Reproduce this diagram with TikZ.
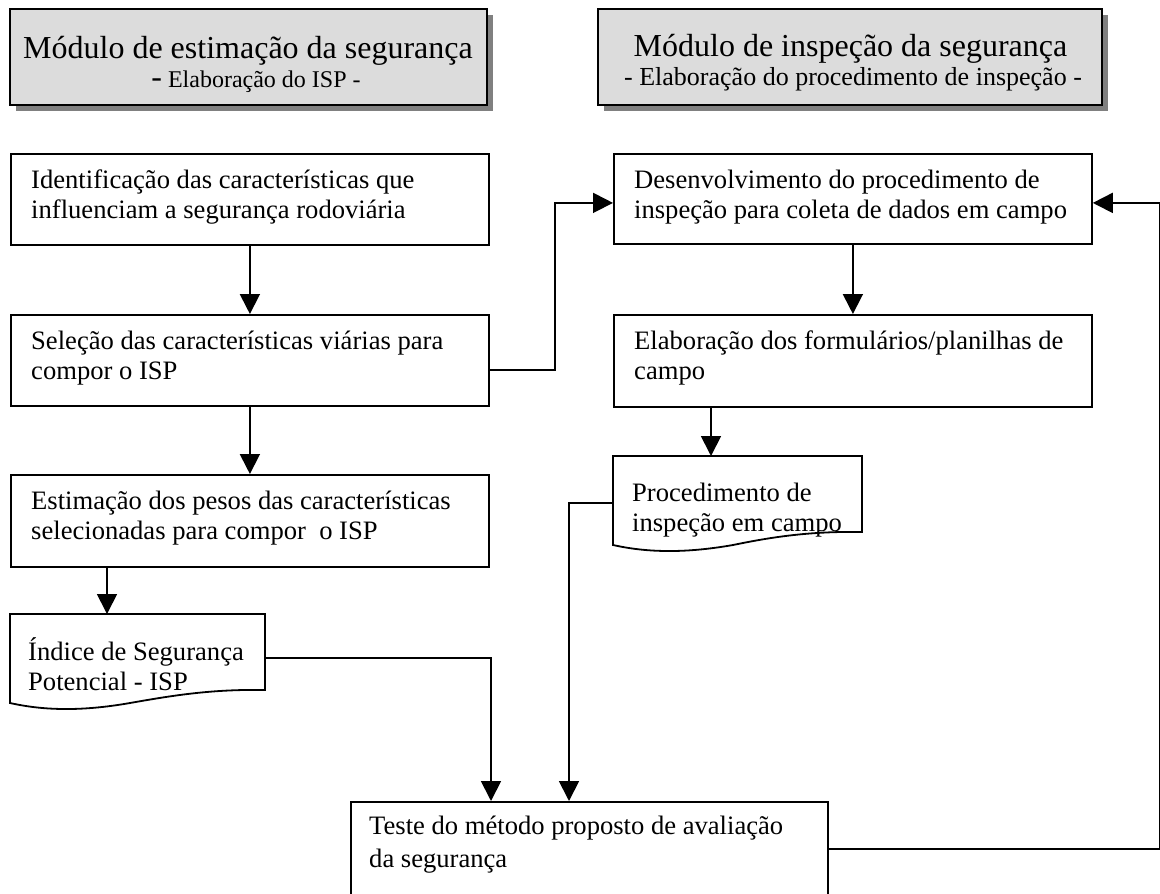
\documentclass[tikz,border=0pt]{standalone}
\usepackage{fontspec}
\setmainfont{Liberation Serif}
\usetikzlibrary{arrows.meta,shadows}
\definecolor{hdrgray}{HTML}{DCDCDC}
\definecolor{shadowgray}{HTML}{808080}
\newcommand{\bodyfont}{\fontsize{26.6pt}{30pt}\selectfont}
\newcommand{\bodyfontb}{\fontsize{26.6pt}{33pt}\selectfont}
\newcommand{\titlefont}{\fontsize{32pt}{36pt}\selectfont}
\newcommand{\subfont}{\fontsize{24pt}{28pt}\selectfont}
\newcommand{\subfontb}{\fontsize{26pt}{30pt}\selectfont}
\begin{document}
\begin{tikzpicture}[x=1pt,y=-1pt,
  stepbox/.style={draw=black, line width=1.8pt, anchor=north west, inner sep=0pt, minimum width=478pt, minimum height=#1},
  hdrbox/.style={draw=black, line width=1.8pt, fill=hdrgray, inner sep=0pt, minimum height=96pt, minimum width=#1,
     drop shadow={shadow xshift=6pt, shadow yshift=-6pt, fill=shadowgray, opacity=1}},
  docframe/.style={anchor=north west, inner sep=0pt, minimum width=#1, minimum height=76pt},
  docline/.style={draw=black, line width=1.8pt, fill=white},
  txt/.style={anchor=base west, inner sep=0pt, align=left, font=\bodyfont},
  conn/.style={line width=1.8pt},
  arr/.style={line width=1.8pt, -{Triangle[width=20pt,length=20pt]}}
]
\useasboundingbox (0,0) rectangle (1160,894);

% headers
\node[hdrbox=477pt] (H1) at (248.5,57) {};
\node[anchor=base, inner sep=0pt, font=\titlefont] (H1t) at (248,58) {Módulo de estimação da segurança};
\node[anchor=base, inner sep=0pt, font=\subfont] (H1s) at (256,87) {{\titlefont -} Elaboração do ISP -};

\node[hdrbox=504pt] (H2) at (850,57) {};
\node[anchor=base, inner sep=0pt, font=\titlefont] (H2t) at (850.5,56) {Módulo de inspeção da segurança};
\node[anchor=base, inner sep=0pt, font=\subfontb] (H2s) at (853,85) {- Elaboração do procedimento de inspeção -};

% left column
\node[stepbox=91pt] (L1) at (10,153) {};
\node[txt] (L1t) at (31,218) {Identificação das características que\\influenciam a segurança rodoviária};
\node[stepbox=91pt] (L2) at (10,314) {};
\node[txt] (L2t) at (31,379) {Seleção das características viárias para\\compor o ISP};
\node[stepbox=92pt] (L3) at (10,474) {};
\node[txt] (L3t) at (31,539) {Estimação dos pesos das características\\selecionadas para compor\ \ o ISP};

% left document
\node[docframe=255pt] (DL) at (10,614) {};
\path[docline] (10,614) -- (265,614) -- (265,690)
  .. controls (210,689) and (170,696) .. (130,703)
  .. controls (90,710) and (50,712) .. (10,703) -- cycle;
\node[txt] (DLt) at (28,690) {Índice de Segurança\\Potencial - ISP};

% right column
\node[stepbox=90pt] (R1) at (613,153) {};
\node[txt] (R1t) at (634,218) {Desenvolvimento do procedimento de\\inspeção para coleta de dados em campo};
\node[stepbox=92pt] (R2) at (613,314) {};
\node[txt] (R2t) at (634,379) {Elaboração dos formulários/planilhas de\\campo};

% right document
\node[docframe=249pt] (DR) at (613,456) {};
\path[docline] (613,456) -- (862,456) -- (862,532)
  .. controls (807,531) and (767,538) .. (733,545)
  .. controls (693,552) and (653,554) .. (613,545) -- cycle;
\node[txt] (DRt) at (632,531) {Procedimento de\\inspeção em campo};

% bottom box
\node[draw=black, line width=1.8pt, anchor=north west, inner sep=0pt, minimum width=477pt, minimum height=130pt] (T) at (350,801) {};
\node[txt, font=\bodyfontb] (Tt) at (369,867) {Teste do método proposto de avaliação\\da segurança};

% connectors
\draw[arr] (L1) -- (L2);
\draw[arr] (L2) -- (L3);
\draw[arr] ([xshift=97pt]L3.south west) -- ([xshift=97pt]DL.north west);
\draw[arr] ([yshift=-9.5pt]L2.east) -- ++(65,0) |- ([yshift=-4pt]R1.west);
\draw[arr] (R1) -- (R2);
\draw[arr] ([xshift=98pt]R2.south west) -- ([xshift=98pt]DR.north west);
\draw[arr] ([yshift=-44pt]DL.north east) -| ([xshift=141pt]T.north west);
\draw[arr] ([yshift=-47pt]DR.north west) -| ([xshift=219pt]T.north west);
\draw[arr] ([yshift=-48pt]T.north east) -- ++(331,0) |- ([yshift=-4pt]R1.east);
\end{tikzpicture}
\end{document}
